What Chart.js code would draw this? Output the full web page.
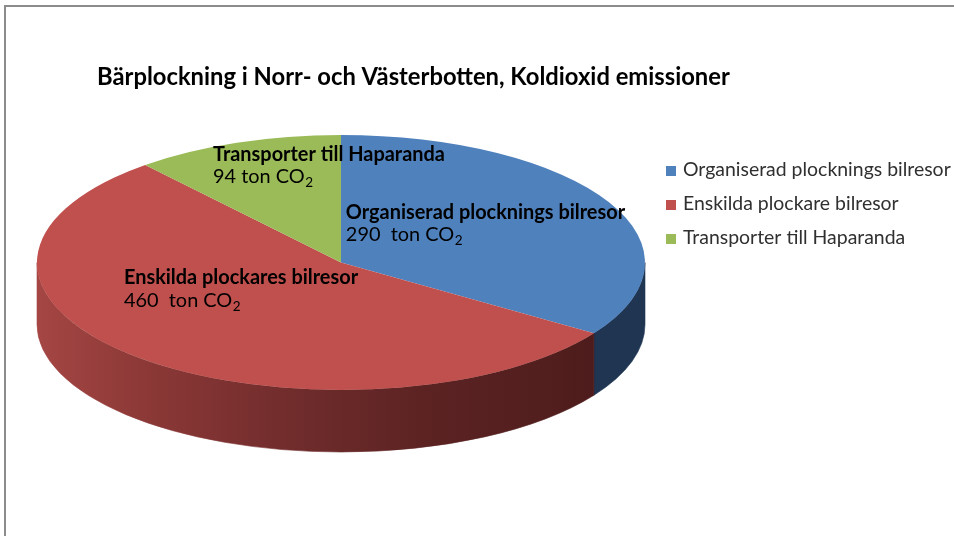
<!DOCTYPE html>
<html>
<head>
<meta charset="utf-8">
<script src="https://cdn.jsdelivr.net/npm/chart.js@4.4.1/dist/chart.umd.min.js"></script>
<style>
html,body{margin:0;padding:0;background:#fff;overflow:hidden}
#wrap{position:relative;width:954px;height:536px;overflow:hidden}
#frame{position:absolute;left:4px;top:5px;width:980px;height:560px;border-top:2px solid #8c8c8c;border-left:2px solid #8c8c8c;pointer-events:none}
canvas{position:absolute;left:0;top:0}
</style>
</head>
<body>
<div id="wrap"><canvas id="c" width="954" height="536"></canvas><div id="frame"></div></div>
<script>
// ---- data ----
const chartTitle = 'Bärplockning i Norr- och Västerbotten, Koldioxid emissioner';
const categories = ['Organiserad plocknings bilresor', 'Enskilda plockare bilresor', 'Transporter till Haparanda'];
const sliceLabels = ['Organiserad plocknings bilresor', 'Enskilda plockares bilresor', 'Transporter till Haparanda'];
const values = [290, 460, 94];
const valueUnits = ['  ton CO', '  ton CO', ' ton CO'];
const unitSubscript = '2';

// ---- style ----
const FONT = 'Lato, "Open Sans", sans-serif';
const topColors = ['#4F81BD', '#C0504D', '#9BBB59'];
const PIE = {cx: 341, cy: 262.5, rx: 304, ry: 127.5, depth: 62};
const LABEL_POS = [
  {fx: 0.016, fy: -0.345},
  {fx: -0.714, fy: 0.169},
  {fx: -0.421, fy: -0.800}
];
const LINE_GAP = 22.5;
const LEGEND = {x: 666, y: 176, step: 34, box: 10, textX: 683};

function fitSize(text, weight, target) {
  const c = document.createElement('canvas').getContext('2d');
  c.font = weight + ' 100px ' + FONT;
  return 100 * target / c.measureText(text).width;
}
const titleSize = fitSize(chartTitle, 'bold', 633);
const labelSize = fitSize(sliceLabels[2], 'bold', 232);
const legendSize = fitSize(categories[0], 'normal', 268);

function wallFill(ctx, i) {
  if (i === 1) {
    const g = ctx.createLinearGradient(PIE.cx - PIE.rx, 0, PIE.cx + PIE.rx * 0.9, 0);
    g.addColorStop(0, 'rgb(165,70,67)');
    g.addColorStop(0.2, 'rgb(138,56,54)');
    g.addColorStop(0.42, 'rgb(115,45,45)');
    g.addColorStop(0.66, 'rgb(93,35,35)');
    g.addColorStop(1, 'rgb(76,27,27)');
    return g;
  }
  if (i === 0) return '#1f3552';
  return '#5d7434';
}

function drawUnitLine(ctx, x, y, text, size) {
  ctx.font = 'normal ' + size + 'px ' + FONT;
  ctx.fillText(text, x, y);
  const w = ctx.measureText(text).width;
  ctx.font = 'normal ' + (size * 0.68) + 'px ' + FONT;
  ctx.fillText(unitSubscript, x + w + 0.5, y + size * 0.2);
}

const pie3d = {
  id: 'pie3d',
  beforeDatasetsDraw(chart) {
    const ctx = chart.ctx;
    const arcs = chart.getDatasetMeta(0).data;
    if (!arcs.length) return;
    const p0 = arcs[0].getProps(['x', 'y', 'outerRadius'], true);
    arcs.forEach((arc, i) => {
      const {startAngle, endAngle} = arc.getProps(['startAngle', 'endAngle'], true);
      [0, 2 * Math.PI, -2 * Math.PI].forEach(off => {
        const a1 = Math.max(startAngle, off), a2 = Math.min(endAngle, off + Math.PI);
        if (a2 > a1) {
          ctx.save();
          ctx.beginPath();
          ctx.ellipse(PIE.cx, PIE.cy, PIE.rx, PIE.ry, 0, a1, a2, false);
          ctx.ellipse(PIE.cx, PIE.cy + PIE.depth, PIE.rx, PIE.ry, 0, a2, a1, true);
          ctx.closePath();
          const f = wallFill(ctx, i);
          ctx.fillStyle = f;
          ctx.strokeStyle = f;
          ctx.lineWidth = 0.6;
          ctx.fill();
          ctx.stroke();
          ctx.restore();
        }
      });
    });
    ctx.save();
    ctx.translate(PIE.cx, PIE.cy);
    ctx.scale(PIE.rx / p0.outerRadius, PIE.ry / p0.outerRadius);
    ctx.translate(-p0.x, -p0.y);
  },
  afterDatasetsDraw(chart) {
    chart.ctx.restore();
  },
  afterDraw(chart) {
    const ctx = chart.ctx;
    ctx.save();
    ctx.textBaseline = 'alphabetic';
    ctx.textAlign = 'left';
    // slice labels
    sliceLabels.forEach((lab, i) => {
      const x = PIE.cx + LABEL_POS[i].fx * PIE.rx;
      const y = PIE.cy + LABEL_POS[i].fy * PIE.ry;
      ctx.fillStyle = '#000';
      ctx.font = 'bold ' + labelSize + 'px ' + FONT;
      ctx.fillText(lab, x, y);
      drawUnitLine(ctx, x, y + LINE_GAP, String(values[i]) + valueUnits[i], labelSize);
    });
    // legend
    const items = chart.options.plugins.legend.labels.generateLabels(chart);
    items.forEach((it, i) => {
      const y = LEGEND.y + i * LEGEND.step;
      ctx.fillStyle = it.fillStyle;
      ctx.fillRect(LEGEND.x, y - LEGEND.box, LEGEND.box, LEGEND.box);
      ctx.fillStyle = '#303030';
      ctx.font = 'normal ' + legendSize + 'px ' + FONT;
      ctx.fillText(it.text, LEGEND.textX, y);
    });
    ctx.restore();
  }
};

new Chart(document.getElementById('c'), {
  type: 'pie',
  data: {
    labels: categories,
    datasets: [{
      data: values,
      backgroundColor: topColors,
      borderWidth: 0,
      clip: false
    }]
  },
  options: {
    responsive: false,
    animation: false,
    events: [],
    layout: {padding: {left: 97, top: 0, right: 0, bottom: 10}},
    plugins: {
      legend: {display: false},
      tooltip: {enabled: false},
      title: {
        display: true,
        text: chartTitle,
        align: 'start',
        color: '#000',
        font: {family: FONT, weight: 'bold', size: titleSize, lineHeight: 1.2},
        padding: {top: 77.3 - 0.6 * titleSize, bottom: 10}
      }
    }
  },
  plugins: [pie3d]
});
</script>
</body>
</html>
